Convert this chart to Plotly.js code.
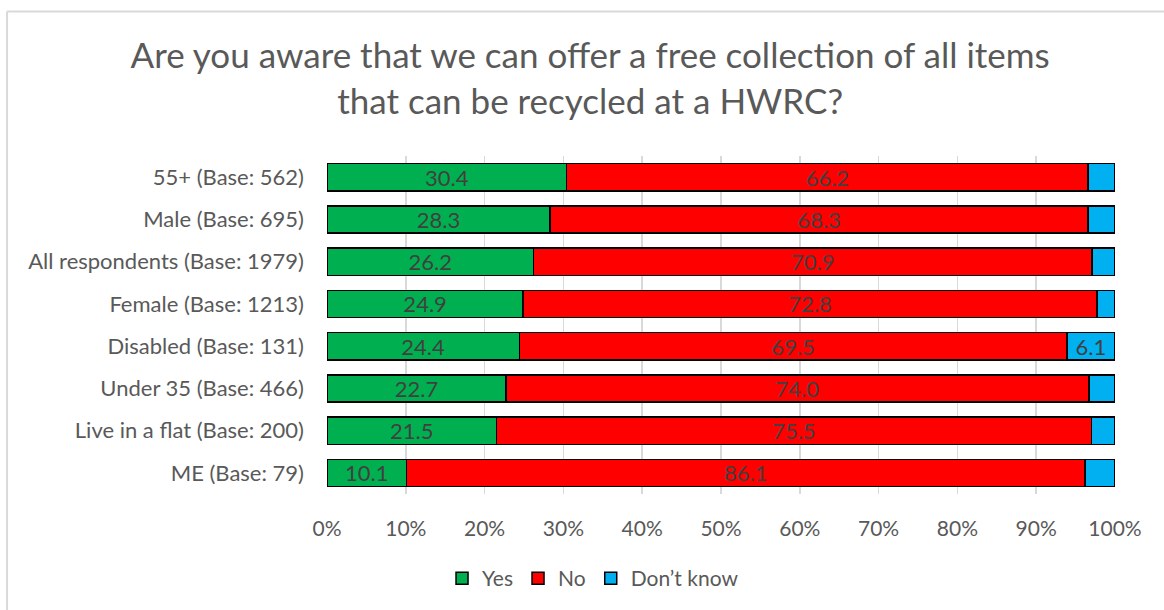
<!DOCTYPE html>
<html>
<head>
<meta charset="utf-8">
<script src="https://cdn.plot.ly/plotly-3.0.1.min.js"></script>
<style>html,body{margin:0;padding:0;background:#fff;}#chart{width:1164px;height:610px;}</style>
</head>
<body>
<div id="chart"></div>
<script>
const categories = [
  "55+ (Base: 562)",
  "Male (Base: 695)",
  "All respondents (Base: 1979)",
  "Female (Base: 1213)",
  "Disabled (Base: 131)",
  "Under 35 (Base: 466)",
  "Live in a flat (Base: 200)",
  "ME (Base: 79)"
];
const yesValues = [30.4, 28.3, 26.2, 24.9, 24.4, 22.7, 21.5, 10.1];
const noValues = [66.2, 68.3, 70.9, 72.8, 69.5, 74.0, 75.5, 86.1];
const dontKnowValues = [3.4, 3.4, 2.9, 2.3, 6.1, 3.3, 3.0, 3.8];
const xTickValues = [0, 10, 20, 30, 40, 50, 60, 70, 80, 90, 100];
const xTickLabels = ["0%", "10%", "20%", "30%", "40%", "50%", "60%", "70%", "80%", "90%", "100%"];

const FONT = "Lato, 'Open Sans', sans-serif";
const labelFont = {family: FONT, size: 22, color: "#404040"};

function mkBar(name, vals, color, showLabel) {
  return {
    type: "bar",
    orientation: "h",
    name: name,
    y: categories,
    x: vals,
    text: vals.map(v => showLabel(v) ? v.toFixed(1) : ""),
    textposition: "inside",
    insidetextanchor: "middle",
    textangle: 0,
    constraintext: "none",
    textfont: labelFont,
    marker: {color: color, line: {color: "#000000", width: 1.5}},
    hoverinfo: "name+x"
  };
}

const data = [
  mkBar("Yes", yesValues, "#00B050", v => true),
  mkBar("No", noValues, "#FF0000", v => true),
  mkBar("Don’t know", dontKnowValues, "#00B0F0", v => v >= 5)
];

const layout = {
  width: 1164,
  height: 610,
  margin: {l: 327, r: 49, t: 156, b: 116, pad: 0, autoexpand: false},
  paper_bgcolor: "#ffffff",
  plot_bgcolor: "#ffffff",
  barmode: "stack",
  bargap: 0.355,
  title: {
    text: "Are you aware that we can offer a free collection of all items<br>that can be recycled at a HWRC?",
    font: {family: FONT, size: 35, color: "#595959"},
    x: 0.507, xref: "container", xanchor: "center",
    y: 0.888, yref: "container", yanchor: "bottom"
  },
  xaxis: {
    range: [0, 100],
    tickmode: "array",
    tickvals: xTickValues,
    ticktext: xTickLabels,
    tickangle: 0,
    showgrid: true,
    gridcolor: "#d9d9d9",
    gridwidth: 1.5,
    zeroline: false,
    showline: false,
    ticks: "",
    tickfont: {family: FONT, size: 21, color: "#595959"},
    ticklabelstandoff: 20,
    automargin: false,
    fixedrange: true
  },
  yaxis: {
    type: "category",
    autorange: "reversed",
    showgrid: false,
    zeroline: false,
    showline: false,
    ticks: "",
    tickfont: {family: FONT, size: 22, color: "#595959"},
    ticklabelstandoff: 22,
    automargin: false,
    fixedrange: true
  },
  showlegend: true,
  legend: {
    orientation: "h",
    x: 0.3376, xanchor: "center",
    y: -0.25, yanchor: "middle",
    font: {family: FONT, size: 21, color: "#595959"},
    traceorder: "normal",
    itemwidth: 30
  },
  shapes: [
    {type: "line", xref: "paper", yref: "paper", x0: -0.406, x1: 1.1, y0: 1.4275, y1: 1.4275,
     line: {color: "#d9d9d9", width: 2}},
    {type: "line", xref: "paper", yref: "paper", x0: -0.406, x1: -0.406, y0: -0.4, y1: 1.4275,
     line: {color: "#d9d9d9", width: 2}}
  ]
};

Plotly.newPlot("chart", data, layout, {displayModeBar: false, staticPlot: true});
</script>
</body>
</html>
